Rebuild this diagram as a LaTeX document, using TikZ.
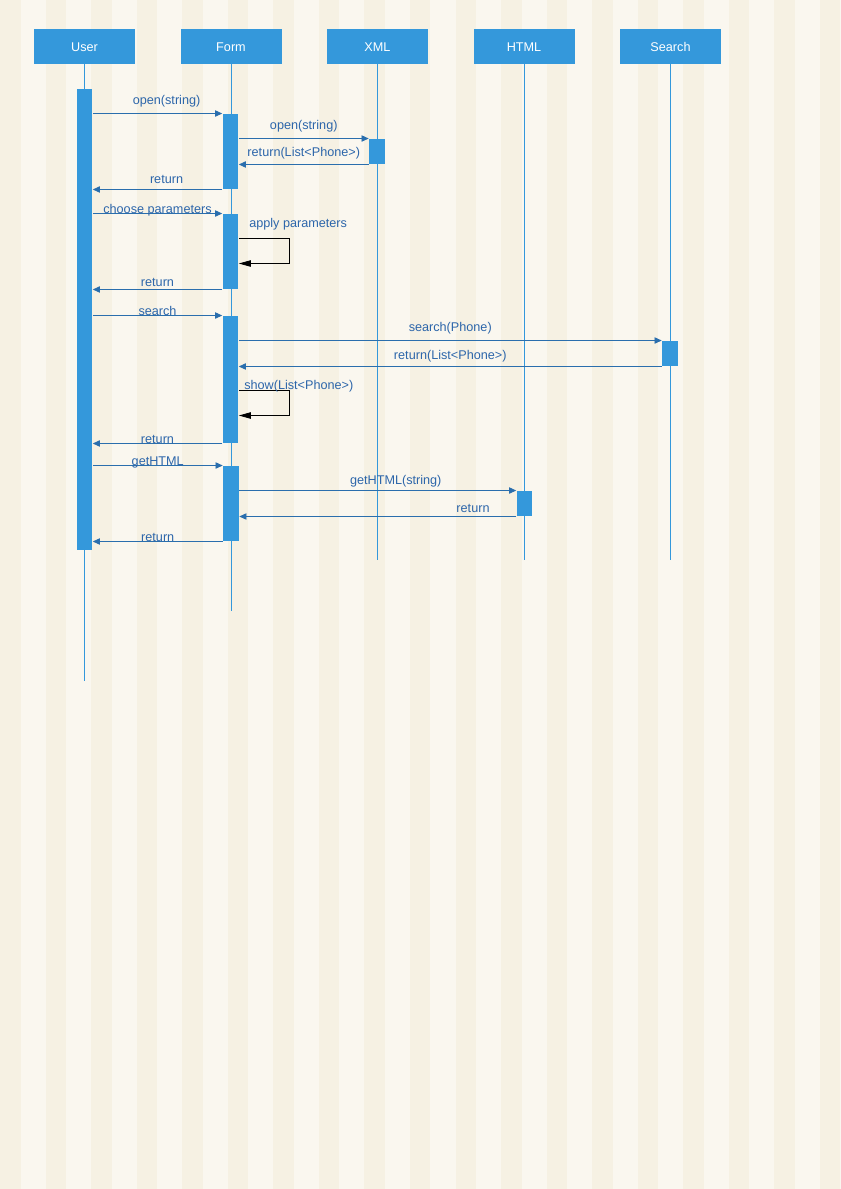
\documentclass[tikz,border=0pt]{standalone}
\usepackage{fontspec}
\setmainfont{Liberation Sans}
\usetikzlibrary{arrows.meta, positioning, calc}
\definecolor{cblue}{HTML}{3498DB}
\definecolor{cmsg}{HTML}{2A6EAD}
\definecolor{ctext}{HTML}{2D66AA}
\definecolor{cpaper}{HTML}{FAF7EF}
\definecolor{cstripe}{HTML}{F6F1E3}
\tikzset{
  every picture/.style={font=\fontsize{9}{11}\selectfont, line width=0.7pt},
  actor/.style={fill=cblue, text=white, minimum width=25.25mm, minimum height=8.75mm, inner sep=0pt, text height=1.6ex, text depth=0.2ex},
  lifeline/.style={draw=cblue, line width=0.6pt},
  act/.style={fill=cblue, minimum width=3.9mm, inner sep=0pt},
  msg/.style={-{Triangle[length=1.8mm, width=1.6mm]}, draw=cmsg, line width=0.65pt},
  selfmsg/.style={-{Triangle[length=3mm, width=1.6mm]}, draw=black, line width=0.6pt},
  lbl/.style={text=ctext, inner sep=0pt, text height=1.6ex, text depth=0.4ex, yshift=#1},
  lbl/.default=3mm,
}

\begin{document}
\begin{tikzpicture}[x=0.25mm, y=-0.25mm]
  \useasboundingbox (0,0) rectangle (841,1189);
  % paper with stripes
  \fill[cpaper] (0,0) rectangle (841,1189);
  \foreach \i in {0,...,18} \fill[cstripe] (45.55*\i,0) rectangle ++(20.5,1189);
  % heads and lifelines
  \foreach \nm/\txt/\xx in {user/User/84.5, form/Form/231, xml/XML/377.5, html/HTML/524, search/Search/670.5}
    \node[actor] (\nm) at (\xx,46.5) {\txt};
  \foreach \nm/\dy in {user/616, form/546, xml/496, html/496, search/496}
    \draw[lifeline] (\nm.south) -- ++(0,\dy);
  % activation bars
  \foreach \nm/\xx/\ta/\tb in {uact/84.5/89/550, fa1/230.5/114/189, fa2/230.5/214/289, fa3/230.5/316/443, fa4/231/466/541, xa/377/139/164, sa/670/341/366, ha/524.5/491/516}
    \node[act, minimum height={(\tb-\ta)*0.25mm}] (\nm) at (\xx,{(\ta+\tb)/2}) {};
  % open
  \draw[msg] (uact.east |- fa1.north) -- node[lbl=3.3mm, pos=.57] {open(string)} (fa1.north west);
  \draw[msg] (fa1.east |- xa.north) -- node[lbl=3.3mm] {open(string)} (xa.north west);
  \draw[msg] (xa.south west) -- node[lbl=3.1mm] {return(List<Phone>)} (fa1.east |- xa.south);
  \draw[msg] (fa1.south west) -- node[lbl=2.5mm, pos=.43] {return} (uact.east |- fa1.south);
  % parameters
  \draw[msg] (uact.east |- fa2.north) -- node[lbl=1mm] {choose parameters} (fa2.north west);
  \draw[selfmsg] ($(fa2.north east)+(0,25)$) -- ++(51,0) -- ++(0,25) -- ++(-51,0);
  \node[lbl=0pt, anchor=west] (applylbl) at ($(fa2.north east)+(10,10)$) {apply parameters};
  \draw[msg] (fa2.south west) -- node[lbl=1.9mm] {return} (uact.east |- fa2.south);
  % search
  \draw[msg] (uact.east |- fa3.north) -- node[lbl=1.1mm] {search} (fa3.north west);
  \draw[msg] (fa3.east |- sa.north) -- node[lbl=3.3mm] {search(Phone)} (sa.north west);
  \draw[msg] (sa.south west) -- node[lbl=2.9mm] {return(List<Phone>)} (fa3.east |- sa.south);
  \draw[selfmsg] ($(fa3.north east)+(0,75)$) -- ++(51,0) -- ++(0,25) -- ++(-51,0);
  \node[lbl=0pt, anchor=west] (showlbl) at ($(fa3.north east)+(5,70)$) {show(List<Phone>)};
  \draw[msg] (fa3.south west) -- node[lbl=1.1mm] {return} (uact.east |- fa3.south);
  % html
  \draw[msg] (uact.east |- fa4.north) -- node[lbl=1.1mm] {getHTML} (fa4.north west);
  \draw[msg] (fa4.east |- ha.north) -- node[lbl=2.7mm, pos=.565] {getHTML(string)} (ha.north west);
  \draw[msg] (ha.south west) -- node[lbl=2.2mm, pos=.156] {return} (fa4.east |- ha.south);
  \draw[msg] (fa4.south west) -- node[lbl=1.1mm] {return} (uact.east |- fa4.south);
\end{tikzpicture}
\end{document}
